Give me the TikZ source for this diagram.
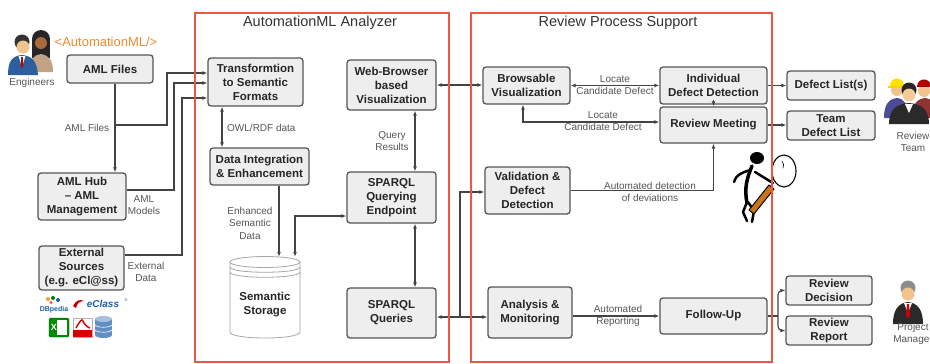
\documentclass[tikz,border=0pt]{standalone}
\usepackage{fontspec}
\setmainfont{Liberation Sans}
\usetikzlibrary{arrows.meta,calc}

\definecolor{framered}{HTML}{EE5544}
\definecolor{boxfill}{HTML}{EEEEEE}
\definecolor{boxline}{HTML}{555555}
\definecolor{wire}{HTML}{444444}
\definecolor{labelgray}{HTML}{555555}
\definecolor{amlorange}{HTML}{F08A30}
\definecolor{skin}{HTML}{F2C48D}
\definecolor{skindark}{HTML}{A86A3C}
\definecolor{suitblue}{HTML}{2D5E9E}
\definecolor{suitdark}{HTML}{2A2A2A}
\definecolor{handle}{HTML}{C8741A}
\definecolor{logoblue}{HTML}{1F5FA8}

\tikzset{
  box/.style={draw=boxline, fill=boxfill, line width=1.3pt, rounded corners=3pt,
    inner sep=0pt, align=center, text=black!85,
    font=\fontsize{11.5}{14}\selectfont\bfseries},
  frame/.style={draw=framered, line width=1.6pt},
  conn/.style={draw=wire, line width=1.1pt, -{Latex[length=5pt,width=4pt]}},
  biconn/.style={draw=wire, line width=1.1pt,
    {Latex[length=5pt,width=4pt]}-{Latex[length=5pt,width=4pt]}},
  plain/.style={draw=wire, line width=1.1pt},
  lbl/.style={font=\fontsize{10}{12.5}\selectfont, text=labelgray, align=center, inner sep=0pt},
  ttl/.style={font=\fontsize{14.5}{17}\selectfont, text=black!80},
  iconlabel/.style={font=\fontsize{10}{12}\selectfont, text=labelgray, align=center, inner sep=0pt},
}

\begin{document}
\begin{tikzpicture}[x=1pt,y=-1pt]
\useasboundingbox (0,0) rectangle (930,364);
\fill[white] (0,0) rectangle (930,364);

% ---------- input side ----------
\node[box, minimum width=86pt, minimum height=28pt] (aml) at (110,69) {AML Files};
\node[box, minimum width=88pt, minimum height=47pt] (hub) at (82,196.5) {AML Hub\\\textendash{} AML\\Management};
\node[box, minimum width=85pt, minimum height=44pt] (ext) at (81.5,268) {External\\Sources\\(e.g. eCl@ss)};

% ---------- analyzer ----------
\node[box, minimum width=95pt, minimum height=48pt] (trans) at (255.5,82) {Transformtion\\to Semantic\\Formats};
\node[box, minimum width=99pt, minimum height=37pt] (integ) at (259.5,166.5) {Data Integration\\\& Enhancement};
\node[box, minimum width=89pt, minimum height=50pt] (web) at (391.5,85) {Web-Browser\\based\\Visualization};
\node[box, minimum width=89pt, minimum height=51pt] (endp) at (391.5,197.5) {SPARQL\\Querying\\Endpoint};
\node[box, minimum width=89pt, minimum height=50pt] (queries) at (391.5,313) {SPARQL\\Queries};

% semantic storage: stacked cylinder
\node[minimum width=70pt, minimum height=81pt, inner sep=0pt] (storage) at (265,297.5) {};
\begin{scope}[draw=black!35, line width=0.8pt]
  \filldraw[fill=white] (230,262) -- (230,332)
     .. controls (230,340) and (300,340) .. (300,332) -- (300,262) -- cycle;
  \filldraw[fill=white] (265,262) ellipse [x radius=35pt, y radius=5.5pt];
  \draw (230,267) .. controls (230,274) and (300,274) .. (300,267);
  \draw (230,272) .. controls (230,279) and (300,279) .. (300,272);
\end{scope}
\node[font=\fontsize{11.5}{14}\selectfont\bfseries, text=black!85, align=center] (storagetext) at (265,305) {Semantic\\Storage};

% ---------- review process ----------
\node[box, minimum width=87pt, minimum height=37pt] (brows) at (526.5,85.5) {Browsable\\Visualization};
\node[box, minimum width=107pt, minimum height=37pt] (indiv) at (713.5,85.5) {Individual\\Defect Detection};
\node[box, minimum width=107pt, minimum height=36pt] (meet) at (713.5,125) {Review Meeting};
\node[box, minimum width=85pt, minimum height=47pt] (valid) at (527.5,190.5) {Validation \&\\Defect\\Detection};
\node[box, minimum width=84pt, minimum height=51pt] (anal) at (530,312.5) {Analysis \&\\Monitoring};
\node[box, minimum width=107pt, minimum height=36pt] (follow) at (713.5,316) {Follow-Up};

% ---------- outputs ----------
\node[box, minimum width=88pt, minimum height=29pt] (dlist) at (831,85.5) {Defect List(s)};
\node[box, minimum width=88pt, minimum height=29pt] (tlist) at (831,125.5) {Team\\Defect List};
\node[box, minimum width=86pt, minimum height=29pt] (decis) at (829,290.5) {Review\\Decision};
\node[box, minimum width=86pt, minimum height=29pt] (report) at (829,330.5) {Review\\Report};

% ---------- connectors ----------
\coordinate (j1) at (115,125);
\draw[conn] ([xshift=5pt]aml.south) -- ([xshift=5pt]aml.south |- hub.north);
\draw[conn] (j1) -- (167,125) -- (167,73) -- (trans.west |- 0,73);
\draw[conn] (hub.east |- 0,190) -- (174,190) -- (174,83) -- (trans.west |- 0,83);
\draw[conn] (ext.east |- 0,255) -- (182,255) -- (182,98) -- (trans.west |- 0,98);
\draw[biconn] (trans.south -| 222,0) -- (integ.north -| 222,0);
\draw[conn] (integ.south -| 279,0) -- (storage.north -| 279,0);
\draw[biconn] (storage.north -| 295,0) -- (295,216) -- (endp.west |- 0,216);
\draw[biconn] (web.south -| 415,0) -- (endp.north -| 415,0);
\draw[biconn] (endp.south -| 415,0) -- (queries.north -| 415,0);
\draw[biconn] (web.east) -- (web.east -| brows.west);
\coordinate (j2) at (460,317);
\draw[biconn] (queries.east |- j2) -- (anal.west |- j2);
\draw[conn] (j2) -- (460,192) -- (valid.west |- 0,192);
\draw[biconn] (brows.east) -- (indiv.west);
\draw[biconn] (brows.south -| 523,0) -- (523,122) -- (meet.west |- 0,122);
\draw[conn] ([yshift=5pt]indiv.south) -- (meet.north);
\draw[conn] (valid.east) -| (meet.south);
\draw[conn] (anal.east |- follow.west) -- (follow.west);
\draw[conn] (indiv.east) -- (dlist.west);
\draw[conn] (meet.east) -- (meet.east -| tlist.west);
\coordinate (fork) at (778,316);
\draw[plain] (follow.east) -- (fork);
\draw[conn, rounded corners=4pt] (fork) |- (decis.west);
\draw[conn, rounded corners=4pt] (fork) |- (report.west);

% ---------- connector labels ----------
\node[lbl] (lAml) at (87,128) {AML Files};
\node[lbl] (lModels) at (144,205) {AML\\Models};
\node[lbl] (lExt) at (146,272) {External\\Data};
\node[lbl, anchor=west] (lOwl) at (227,128) {OWL/RDF data};
\node[lbl] (lEnh) at (250,223) {Enhanced\\Semantic\\Data};
\node[lbl] (lQuery) at (392,141) {Query\\Results};
\node[lbl] (lLoc1) at (615,85) {Locate\\Candidate Defect};
\node[lbl] (lLoc2) at (603,121) {Locate\\Candidate Defect};
\node[lbl] (lAuto) at (650,192) {Automated detection\\of deviations};
\node[lbl] (lRep) at (618,316) {Automated\\Reporting};

% ---------- engineers ----------
\fill[black!85] (41,39) circle (9pt);
\fill[black!85] (32,40) rectangle (50,58);
\fill[skindark] (41,43) circle (6pt);
\fill[black!20!brown!60!white] (29,72) .. controls (29,59) and (34,55) .. (41,54)
   .. controls (48,55) and (53,59) .. (53,72) -- cycle;
\fill[black!80] (22,42) circle (7.5pt);
\fill[skin] (23,47) circle (6.5pt);
\fill[suitblue] (8,75) .. controls (8,61) and (12,56) .. (22,55)
   .. controls (32,56) and (37,61) .. (38,75) -- cycle;
\fill[white] (18.5,56) -- (25.5,56) -- (22,67) -- cycle;
\fill[red!75!black] (21.2,57) -- (22.8,57) -- (23.2,66) -- (22,68) -- (20.8,66) -- cycle;
\node[iconlabel] (engLbl) at (32,83) {Engineers};
\node[font=\fontsize{13}{15}\selectfont, text=amlorange, inner sep=0pt] (amlTag) at (106,42) {<AutomationML/>};

% ---------- data source logos ----------
\fill[orange!80] (48,299) circle (2pt);
\fill[green!50!black] (53,298) circle (2pt);
\fill[logoblue] (58,300) circle (2pt);
\fill[red!70] (51,302.5) circle (1.6pt);
\node[font=\fontsize{7}{8}\selectfont\bfseries, text=logoblue, inner sep=0pt] (dbpedia) at (54,310) {DBpedia};
\fill[red!75!black] (73,306) .. controls (76,300) and (80,299) .. (84,301)
   .. controls (80,301) and (77,303) .. (76,308) -- cycle;
\node[font=\fontsize{10}{11}\selectfont\bfseries\itshape, text=logoblue, inner sep=0pt] (eclass) at (103,304) {eClass};
\node[font=\fontsize{4}{4}\selectfont, text=logoblue, inner sep=0pt] (eclassReg) at (126,300) {\textregistered};
\filldraw[fill=green!55!black, draw=green!35!black, rounded corners=1.5pt] (49,318) rectangle (69,337);
\fill[white] (57,320) rectangle (67,335);
\node[font=\fontsize{9}{9}\selectfont\bfseries, text=white, inner sep=0pt] (xls) at (54,327.5) {X};
\filldraw[fill=white, draw=black!30] (73,318) rectangle (92,337);
\fill[red!85!black] (73,330) rectangle (92,337);
\draw[red!85!black, line width=1.4pt] (76,328) .. controls (80,321) and (82,318) .. (83,321)
   .. controls (84,324) and (87,327) .. (90,328);
\fill[logoblue!70] (95,319) rectangle (112,335);
\fill[logoblue!70] (103.5,335) ellipse [x radius=8.5pt, y radius=3pt];
\fill[logoblue!40] (103.5,319) ellipse [x radius=8.5pt, y radius=3pt];
\draw[white, line width=0.6pt] (95,325) .. controls (98,328) and (109,328) .. (112,325);
\draw[white, line width=0.6pt] (95,330) .. controls (98,333) and (109,333) .. (112,330);

% ---------- detective with magnifying glass ----------
\begin{scope}[line cap=round, line join=round]
  \draw[black, line width=3.5pt] (752,166) .. controls (747,178) and (744,188) .. (747,203);
  \draw[black, line width=2.5pt] (751,170) .. controls (742,172) and (735,176) .. (734,182);
  \draw[black, line width=2.5pt] (755,172) -- (768,180) -- (773,183);
  \draw[black, line width=2.5pt] (747,202) -- (743,212) -- (747,221);
  \draw[black, line width=2.5pt] (748,202) -- (754,211) -- (752,222);
  \fill[black] (757,158) ellipse [x radius=7pt, y radius=6pt];
  \draw[black, line width=1pt, fill=handle] (769,185) -- (774,189) -- (754,214) -- (749,210) -- cycle;
  \filldraw[fill=white, draw=black, line width=1.1pt] (784,171) ellipse [x radius=12pt, y radius=16pt];
  \draw[black, line width=0.6pt] (782,161) .. controls (784,163) and (784,166) .. (783,168);
\end{scope}

% ---------- review team ----------
\fill[black!30!blue!40!gray] (884,118) .. controls (884,104) and (889,99) .. (897,98)
   .. controls (905,99) and (908,104) .. (908,118) -- cycle;
\fill[skin] (897,90) circle (6pt);
\fill[yellow!85!orange] (890,86) .. controls (890,76) and (904,76) .. (904,86) -- cycle;
\fill[yellow!70!orange] (888,85.5) rectangle (906,87.5);
\fill[black!40!red!60!gray] (912,118) .. controls (912,104) and (917,99) .. (925,98)
   .. controls (933,99) and (936,104) .. (936,118) -- cycle;
\fill[skin] (924,91) circle (6pt);
\fill[red!70!black] (917,87) .. controls (917,77) and (931,77) .. (931,87) -- cycle;
\fill[suitdark] (889,124) .. controls (889,110) and (896,104) .. (909,103)
   .. controls (922,104) and (929,110) .. (929,124) -- cycle;
\fill[white] (905,104) -- (913,104) -- (909,113) -- cycle;
\fill[black!85] (909,90) circle (7.5pt);
\fill[skin!90!white] (909,95) circle (6.5pt);
\node[iconlabel] (teamLbl) at (913,142) {Review\\Team};

% ---------- project manager ----------
\fill[suitdark] (893,324) .. controls (893,309) and (899,303) .. (908,302)
   .. controls (917,303) and (923,309) .. (923,324) -- cycle;
\fill[white] (904,303) -- (912,303) -- (908,313) -- cycle;
\fill[red!80!black] (907,304) -- (909,304) -- (910,316) -- (908,318) -- (906,316) -- cycle;
\fill[black!45] (908,288) circle (7.5pt);
\fill[skin] (908,294) circle (6.5pt);
\node[iconlabel] (pmLbl) at (913,334) {Project\\Manager};

% ---------- component frames ----------
\draw[frame] (195,13) rectangle (449,362);
\draw[frame] (471,13) rectangle (772,362);
\node[ttl] (tAna) at (320,23) {AutomationML Analyzer};
\node[ttl] (tRev) at (618,23) {Review Process Support};
\end{tikzpicture}
\end{document}
